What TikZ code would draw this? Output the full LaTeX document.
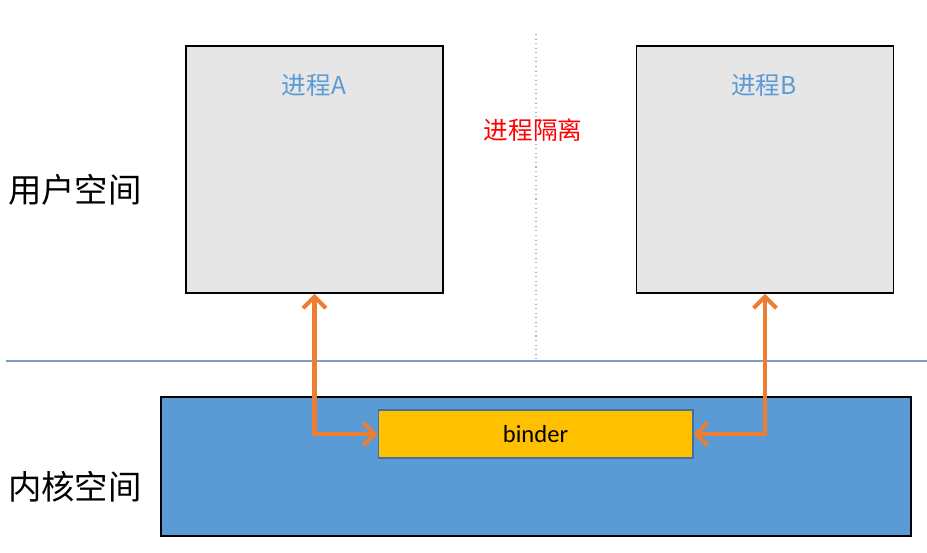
\documentclass[tikz,border=0pt]{standalone}
\usepackage{fontspec}
\setmainfont{Carlito}
\newfontfamily\cjk{Noto Sans CJK SC}
\usetikzlibrary{arrows.meta,positioning}
\definecolor{procgray}{HTML}{E6E6E6}
\definecolor{kernelblue}{HTML}{5B9BD5}
\definecolor{binderyellow}{HTML}{FFC000}
\definecolor{binderedge}{HTML}{41719C}
\definecolor{linkorange}{HTML}{ED7D31}
\definecolor{sepblue}{HTML}{7F9CC8}
\definecolor{isoblue}{HTML}{9DB6DE}

\begin{document}
\begin{tikzpicture}[x=0.02cm,y=-0.02cm]
                    \tikzstyle{every node}+=[inner sep=0pt]
                    \tikzstyle{proc}=[draw=black,line width=1.1pt,fill=procgray,minimum width=5.14cm,minimum height=4.94cm]
                    \tikzstyle{kernel}=[draw=black,line width=1.1pt,fill=kernelblue,minimum width=15cm,minimum height=2.78cm]
                    \tikzstyle{binderbox}=[draw=binderedge,line width=0.6pt,fill=binderyellow,minimum width=6.3cm,minimum height=0.96cm,font=\fontsize{14}{16}\selectfont]
                    \tikzstyle{proctext}=[text=kernelblue,font=\cjk\fontsize{14}{16}\selectfont]
                    \tikzstyle{spacetext}=[font=\cjk\fontsize{19}{21}\selectfont]
                    \tikzstyle{link}=[draw=linkorange,line width=2.3pt,{Straight Barb[length=6.5pt,width=13pt]}-{Straight Barb[length=6.5pt,width=13pt]}]
                    \useasboundingbox (0,0) rectangle (927,552);
                    % separators
                    \draw [sepblue,line width=0.6pt] (6,361) -- (927,361);
                    \draw [isoblue,line width=0.6pt,dotted] (536,34) -- (536,361);
                    % boxes
                    \node [proc] (procA) at (314.5,169.5) {};
                    \node [proc] (procB) at (765,169.5) {};
                    \node [kernel] (kern) at (536,466.5) {};
                    \node [binderbox] (binder) at (535.5,434) {binder};
                    % labels
                    \node [proctext] (nameA) at (314,85) {进程A};
                    \node [proctext] (nameB) at (764,85) {进程B};
                    \node [text=red,font=\cjk\fontsize{14}{16}\selectfont] (iso) at (533,130) {进程隔离};
                    \node [spacetext] (user) at (75,190) {用户空间};
                    \node [spacetext] (kspace) at (75,487) {内核空间};
                    % links
                    \draw [link] (procA.south) |- (binder.west);
                    \draw [link] (procB.south) |- (binder.east);
                \end{tikzpicture}
\end{document}
